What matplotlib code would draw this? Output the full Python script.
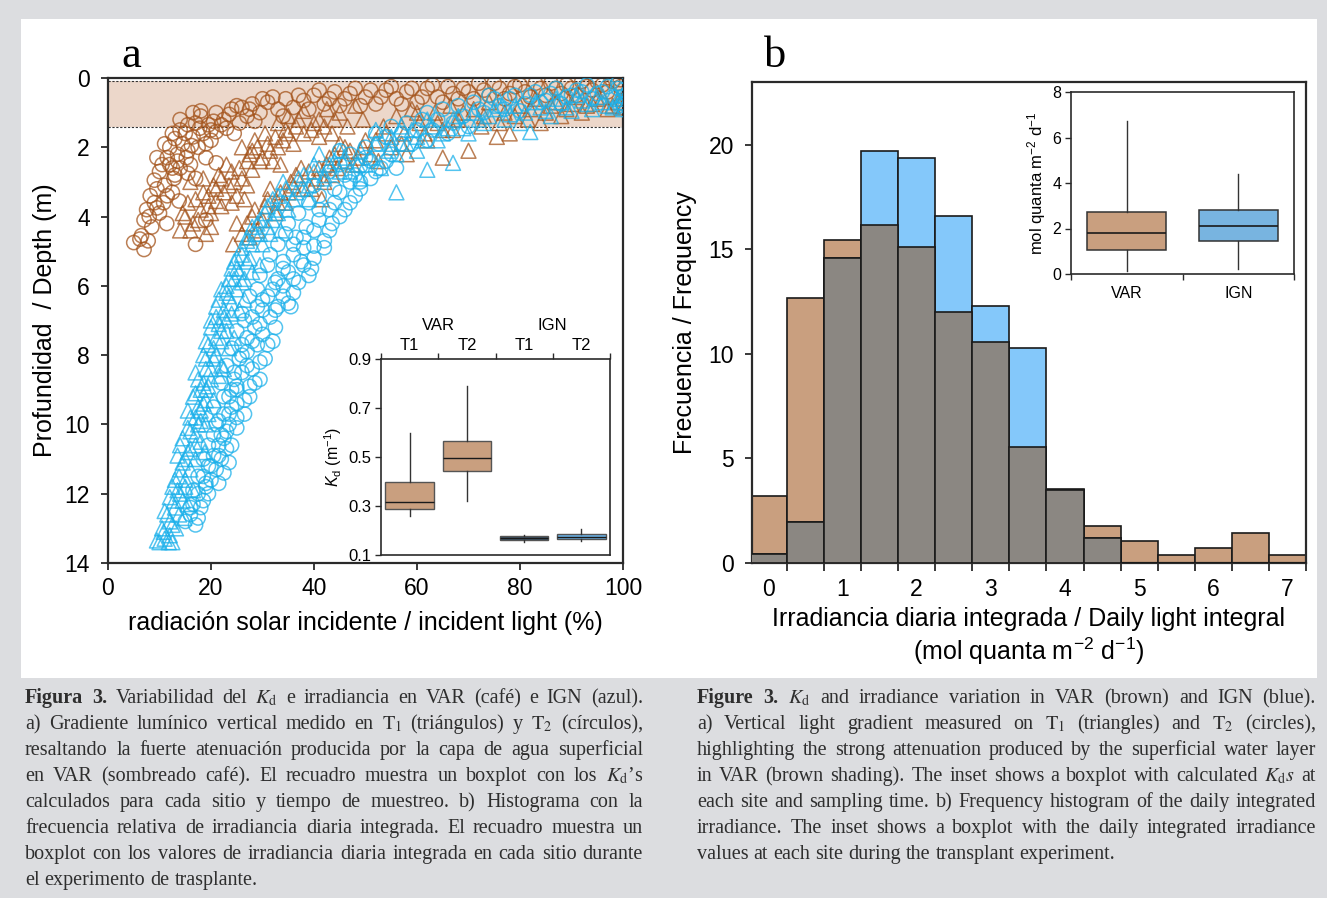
import matplotlib
matplotlib.use('Agg')
import matplotlib.pyplot as plt
import numpy as np
from matplotlib.patches import Rectangle

plt.rcParams['font.family'] = ['Liberation Sans', 'DejaVu Sans']
plt.rcParams['mathtext.fontset'] = 'custom'
plt.rcParams['mathtext.rm'] = 'Liberation Sans'
plt.rcParams['mathtext.it'] = 'Liberation Sans:italic'
plt.rcParams['mathtext.bf'] = 'Liberation Sans:bold'

# ---------------- data: panel a (incident light %, depth m) ----------------
var_t2 = np.array([  # VAR, T2 (circles)
    (5.0, 4.75), (6.2, 4.65), (7.0, 4.95), (7.8, 4.7), (6.5, 4.55), (7.0, 4.1), (8.5, 4.3), (7.5, 3.8),
    (9.0, 3.6), (8.2, 3.4), (10.0, 3.9), (11.4, 4.2), (9.5, 3.2), (9.0, 2.95), (10.0, 2.7), (11.0, 3.1),
    (12.0, 2.5), (11.5, 2.3), (13.0, 2.8), (12.5, 3.3), (14.0, 2.6), (10.5, 2.5), (13.5, 2.2), (12.0, 2.0),
    (13.0, 1.75), (14.5, 1.9), (15.5, 2.1), (16.5, 1.7), (17.5, 2.0), (18.5, 1.6), (20.0, 1.8), (21.0, 1.55),
    (15.0, 1.6), (19.0, 2.3), (16.0, 2.5), (14.0, 1.5), (17.0, 1.3), (18.0, 1.1), (19.5, 1.35), (21.0, 1.0),
    (22.5, 1.2), (24.0, 0.9), (25.5, 1.3), (27.0, 1.1), (23.0, 1.45), (26.0, 0.85), (28.0, 0.75), (29.5, 1.0),
    (31.0, 0.7), (33.0, 0.9), (34.5, 0.6), (36.0, 0.85), (30.0, 0.6), (38.0, 0.65), (40.0, 0.5), (42.0, 0.75),
    (44.0, 0.4), (46.0, 0.6), (48.0, 0.3), (50.0, 0.55), (52.0, 0.75), (54.0, 0.35), (56.0, 0.6), (45.0, 0.8),
    (58.0, 0.4), (60.0, 0.7), (62.0, 0.3), (64.0, 0.55), (66.0, 0.25), (68.0, 0.6), (70.0, 0.4), (72.0, 0.15),
    (74.0, 0.5), (76.0, 0.3), (78.0, 0.45), (80.0, 0.2), (82.0, 0.55), (84.0, 0.3), (86.0, 0.15), (88.0, 0.45),
    (90.0, 0.3), (92.0, 0.1), (94.0, 0.35), (96.0, 0.2), (98.0, 0.1), (99.5, 0.05), (99.5, 0.25), (99.0, 0.15),
    (17.0, 4.8), (19.0, 4.1), (12.8, 2.9), (15.2, 2.3), (17.8, 1.45), (13.8, 3.55), (10.8, 3.6), (16.2, 1.95),
    (20.5, 1.25), (24.5, 1.6), (17.0, 2.9), (21.0, 2.45),
    (9.5, 2.3), (11.0, 1.9), (12.5, 1.6), (14.0, 1.2), (15.5, 1.35), (16.5, 1.0), (18.0, 0.95), (19.0, 1.9),
    (20.0, 1.5), (22.0, 1.35), (23.5, 1.05), (25.0, 0.8), (27.5, 0.9), (28.5, 1.25), (32.0, 0.55), (34.0, 1.1),
    (37.0, 0.5), (39.0, 0.9), (41.0, 0.35), (43.0, 0.6), (47.0, 0.45), (49.0, 0.8), (51.0, 0.35), (53.0, 0.55),
    (55.0, 0.25), (57.0, 0.75), (59.0, 0.3), (61.0, 0.55), (63.0, 0.2), (65.0, 0.7), (67.0, 0.45), (69.0, 0.3),
    (71.0, 0.6), (73.0, 0.35), (75.0, 0.15), (77.0, 0.6), (79.0, 0.25), (81.0, 0.4), (83.0, 0.15), (85.0, 0.5),
    (87.0, 0.3), (89.0, 0.2), (91.0, 0.5), (93.0, 0.25), (95.0, 0.1), (97.0, 0.4), (8.0, 4.0), (9.5, 3.75),
    (11.5, 3.4), (12.5, 2.6), (13.5, 2.4), (15.5, 2.75),
])
var_t1 = np.array([  # VAR, T1 (triangles)
    (14, 4.4), (15, 4.0), (16.5, 4.2), (18, 3.8), (19, 4.5), (17, 3.5), (19.5, 3.4), (15.5, 3.6), (20, 3.9),
    (20.5, 3.1), (21.5, 2.8), (22.5, 3.3), (23, 2.5), (24.5, 3.0), (25.5, 2.6), (26.5, 3.5), (27, 2.4),
    (22, 3.7), (24, 3.6), (21, 3.55), (26, 2.0), (27.5, 2.2), (28.5, 1.8), (29.5, 2.4), (30.5, 1.6),
    (31.5, 2.1), (32.5, 1.7), (33.5, 2.5), (34.5, 1.5), (28, 2.65), (33, 1.3), (35, 1.1), (36.5, 1.4),
    (38, 0.95), (39.5, 1.5), (41, 1.2), (42.5, 0.9), (43.5, 1.6), (45, 1.0), (46.5, 1.4), (48, 0.8),
    (49.5, 1.2), (24.3, 4.8), (26, 4.5), (27, 4.2), (28.5, 3.8), (30, 4.1), (31, 3.5), (32.5, 3.9),
    (33.5, 3.3), (34.5, 3.6), (29, 4.4), (35.5, 3.0), (36.5, 2.8), (38, 3.2), (39, 2.7), (40.5, 2.9),
    (41.5, 3.5), (42.5, 2.5), (43.5, 2.8), (44, 2.2), (45, 1.9), (46, 2.4), (47, 2.1), (48.5, 2.3),
    (49.5, 2.0), (52, 1.8), (53.5, 1.4), (55, 2.0), (56, 1.1), (57.5, 1.6), (59, 0.9), (60.5, 1.3),
    (62, 1.8), (63.5, 1.0), (65, 1.5), (66.5, 0.8), (68, 1.2), (70, 2.1), (71, 0.9), (72.5, 1.4), (74, 0.7),
    (75.5, 1.7), (77, 1.0), (78, 1.6), (80, 0.8), (81.5, 1.2), (83, 0.6), (85, 1.0), (87, 0.7), (89, 0.9),
    (91, 0.55), (93, 0.8), (95, 0.6), (97, 0.9), (99, 0.7), (100, 0.85), (100, 0.6), (52.5, 2.4), (58, 2.2),
    (65, 2.3), (16, 3.0), (18.5, 2.9), (20, 4.3),
    (14.5, 3.9), (16, 4.4), (17.5, 4.1), (18.5, 3.3), (19.5, 3.7), (21, 3.2), (22, 2.9), (23.5, 3.1),
    (24, 2.7), (25, 3.4), (26, 2.9), (27, 3.1), (28, 2.1), (29, 2.0), (30, 2.3), (31, 1.9), (32, 2.4),
    (33, 2.0), (34, 1.8), (35, 1.6), (36, 1.9), (37, 1.2), (38, 1.6), (40, 1.3), (41, 1.7), (42, 1.4),
    (44, 1.2), (25, 4.2), (27.5, 4.6), (28, 4.0), (30.5, 3.7), (31.5, 3.2), (33, 3.6), (35, 3.3), (36, 3.1),
    (37.5, 2.6), (39.5, 3.2), (41, 2.6), (42, 3.0), (43, 2.3), (44.5, 2.6), (46, 2.0), (47.5, 2.5), (50, 1.8),
    (51, 2.2), (54, 1.6), (57, 1.9), (60, 1.0), (61.5, 1.6), (64, 1.3), (67, 1.5), (69, 1.0), (73, 1.1),
    (76, 1.3), (79, 1.1), (82, 0.9), (84, 1.3), (86, 0.8), (88, 1.1), (90, 0.75), (92, 1.0), (94, 0.75),
    (96, 0.55), (98, 0.8),
])
ign_t1 = np.array([  # IGN, T1 (triangles)
    (10, 13.4), (11, 13.3), (12, 13.2), (10.5, 13.0), (12.5, 12.9), (11.5, 12.6), (13, 12.4), (12, 12.1),
    (13.5, 11.9), (14.5, 12.2), (13, 11.6), (14, 11.3), (15, 11.0), (13.5, 10.9), (16, 10.7), (14.5, 10.4),
    (15.5, 10.1), (17, 10.3), (16, 9.8), (17.5, 9.5), (16.5, 9.2), (18, 9.0), (19, 9.3), (17.5, 8.7),
    (19, 8.4), (20, 8.7), (18.5, 8.0), (20.5, 8.1), (19.5, 7.7), (21, 7.5), (20, 7.2), (22, 7.3), (21, 6.9),
    (22.5, 6.7), (21.5, 6.4), (23.5, 6.3), (23, 6.0), (24.5, 5.8), (24, 5.5), (25.5, 5.6), (25, 5.2),
    (27, 5.3), (26, 4.9), (28, 4.8), (27, 4.6), (29.5, 4.5), (29, 4.2), (31, 4.3), (30.5, 3.9), (32.5, 3.8),
    (32, 3.5), (34, 3.6), (34.5, 3.2), (36.5, 3.3), (37, 2.9), (39, 3.1), (40, 2.7), (42, 2.9), (43, 2.5),
    (45, 2.7), (46, 2.3), (48.5, 2.5), (49, 2.1), (51, 2.3), (52, 1.9), (54.5, 2.1), (56, 3.3), (55, 1.7),
    (58, 1.9), (59, 1.5), (61, 1.8), (62, 2.65), (63, 1.4), (65, 1.6), (67, 2.45), (67, 1.2), (69, 1.45),
    (71, 1.0), (73, 1.3), (75, 0.9), (77, 1.2), (79, 0.8), (82, 1.56), (81, 1.0), (83, 0.7), (85, 0.95),
    (87, 0.6), (89, 0.85), (91, 0.5), (93, 0.75), (95, 0.55), (97, 0.8), (99, 0.6), (100, 0.9), (100, 0.7),
    (100, 0.5), (22, 8.3), (23, 7.0), (19, 10.0), (24, 6.8), (26, 5.9), (12.5, 13.4), (15, 11.8), (18, 9.9),
    (9.5, 13.35), (10.8, 13.1), (11.8, 13.4), (13.2, 13.0), (11, 12.5), (12, 12.8), (13.8, 12.6), (14.8, 12.7),
    (12.8, 12.2), (14, 12.0), (15.5, 12.3), (12.5, 11.8), (13.8, 11.5), (15, 11.6), (16, 11.3), (14.5, 11.1),
    (16.5, 11.9), (17, 11.0), (14, 10.6), (15.5, 10.8), (17, 10.6), (16, 10.2), (18, 10.5), (17.5, 10.0),
    (18.8, 10.8), (15.5, 9.6), (17, 9.8), (18.5, 9.4), (19.5, 9.7), (17, 9.1), (19, 9.0), (20.5, 9.3),
    (18, 9.6), (17, 8.5), (18.5, 8.8), (20, 8.4), (21.5, 8.6), (19, 8.1), (21, 8.0), (22.5, 8.4), (19.5, 8.9),
    (19, 7.6), (20.5, 7.8), (22, 7.6), (23.5, 7.8), (21.5, 7.1), (23, 7.3), (24.5, 7.5), (20, 7.0), (21, 6.6),
    (22.5, 6.9), (24, 6.5), (25.5, 6.7), (23, 6.2), (25, 6.1), (26.5, 6.4), (22, 6.1), (23.5, 5.8), (25, 5.5),
    (26.5, 5.8), (28, 5.6), (26, 5.1), (27.5, 5.2), (29.5, 5.4), (24.5, 5.3), (27, 4.7), (28.5, 4.5),
    (30, 4.8), (31.5, 4.5), (29.5, 4.1), (32, 4.1), (33.5, 4.4), (28, 4.3), (31, 3.7), (33, 3.4), (35, 3.8),
    (36, 3.5), (34, 3.0), (37.5, 3.2), (39, 3.5), (33, 3.9), (38, 2.8), (40, 2.5), (42, 2.8), (44, 2.4),
    (47, 2.7), (49, 2.9), (41, 2.2), (45, 2.1), (50, 2.5), (53, 2.6), (52, 1.5), (55, 1.9), (57, 1.4),
    (60, 1.7), (62, 1.2), (64, 1.8), (66, 1.45), (68, 1.1), (70, 1.6), (72, 1.2), (56, 2.2), (60, 2.1),
    (74, 1.1), (76, 0.8), (78, 1.05), (80, 1.3), (84, 0.85), (86, 1.1), (88, 0.7), (90, 0.95), (92, 0.65),
    (94, 0.9), (96, 0.7), (98, 0.85),
])
ign_t2 = np.array([  # IGN, T2 (circles)
    (15, 12.8), (16, 12.6), (17, 12.9), (16.5, 12.3), (18, 12.4), (17.5, 12.0), (19, 11.8), (18.5, 11.5),
    (20, 11.6), (19.5, 11.2), (21, 11.3), (20.5, 10.9), (22, 11.0), (21.5, 10.6), (23, 10.7), (25, 10.1),
    (22, 10.3), (23.5, 10.0), (22.5, 9.7), (24, 9.5), (25, 9.8), (23.5, 9.2), (25, 9.0), (26.5, 9.3),
    (27.5, 8.9), (24.5, 8.7), (26, 8.5), (28, 8.4), (29.5, 8.7), (25.5, 8.1), (27, 7.9), (29, 7.7),
    (30.5, 8.1), (27, 7.5), (28.5, 7.2), (30, 7.4), (32, 7.6), (28, 6.9), (30, 6.7), (31.5, 6.9), (33, 6.6),
    (35, 6.5), (30, 6.4), (32, 6.1), (34, 6.3), (36, 6.2), (33, 5.8), (35, 5.6), (37, 5.9), (39, 5.7),
    (34, 5.3), (36, 5.1), (38, 5.4), (40, 5.2), (36, 4.8), (38, 4.6), (40, 4.85), (42, 4.7), (38.5, 4.3),
    (41, 4.1), (43, 4.4), (45, 4.0), (41, 3.8), (44, 3.6), (46, 3.8), (48, 3.4), (44, 3.2), (47, 3.0),
    (49, 3.2), (51, 2.9), (46, 2.8), (49, 2.55), (51, 2.4), (53, 2.6), (47, 2.2), (50, 2.0), (52.5, 1.9),
    (55, 2.2), (54, 1.7), (57, 1.6), (59, 1.9), (58, 1.3), (61, 1.2), (63, 1.5), (62, 1.0), (65, 0.9),
    (67, 1.3), (68, 0.8), (71, 0.7), (73, 1.0), (75, 0.6), (77, 0.9), (79, 0.5), (81, 0.75), (83, 0.4),
    (85, 0.65), (87, 0.3), (89, 0.55), (91, 0.35), (93, 0.2), (95, 0.45), (97, 0.25), (99, 0.15),
    (100, 0.35), (100, 0.55), (100, 0.75),
    (16, 12.4), (17.5, 12.7), (18.5, 12.2), (19.5, 12.0), (16.5, 11.9), (17.5, 11.5), (18.5, 11.0),
    (20, 11.2), (21.5, 11.7), (22.5, 11.4), (23.5, 11.1), (19, 11.7), (19.5, 10.6), (20.5, 10.3),
    (21.5, 10.9), (22.5, 10.4), (24, 10.6), (21, 10.0), (23, 10.2), (20.5, 9.5), (21.5, 9.9), (22.5, 9.2),
    (23.5, 9.7), (25, 9.4), (26.5, 9.7), (27.5, 9.2), (24, 9.0), (22, 8.8), (23, 8.3), (24.5, 8.5),
    (25, 8.9), (27, 8.3), (28.5, 8.8), (29.5, 8.2), (26, 8.0), (24, 7.8), (25, 7.3), (26, 7.7), (28, 7.6),
    (29.5, 7.1), (31, 7.7), (32.5, 7.2), (26.5, 7.0), (26, 6.8), (27.5, 6.3), (29, 6.6), (31, 6.3),
    (32.5, 6.7), (34, 6.0), (35.5, 6.6), (29, 6.1), (29.5, 5.7), (31, 5.4), (32.5, 5.9), (34, 5.5),
    (36, 5.8), (37.5, 5.3), (39.5, 5.5), (31.5, 5.1), (33, 4.8), (34.5, 4.5), (36.5, 4.6), (38, 4.9),
    (40, 4.4), (42, 4.9), (43.5, 4.2), (35, 4.2), (37, 3.9), (39, 3.6), (41, 3.4), (43, 3.8), (45, 3.3),
    (47, 3.6), (49, 3.0), (40, 3.1), (43, 2.7), (45, 2.5), (48, 2.8), (50, 2.3), (52, 2.7), (54, 2.4),
    (56, 2.6), (45, 2.1), (52, 1.6), (55, 1.4), (57, 1.9), (60, 1.5), (62, 1.8), (64, 1.2), (66, 1.6),
    (69, 1.1), (70, 1.4), (72, 0.9), (74, 0.5), (76, 0.8), (78, 0.6), (80, 0.95), (82, 0.5), (84, 0.7),
    (86, 0.45), (88, 0.75), (90, 0.5), (92, 0.4), (94, 0.6), (96, 0.4), (98, 0.55), (99, 0.3), (99.5, 0.8),
])
shade_top, shade_bottom = 0.1, 1.42   # surface water layer in VAR (m)

# inset a: Kd boxplot (m^-1)
kd_groups = ['T1', 'T2', 'T1', 'T2']
kd_sites = ['VAR', 'IGN']
kd_lo = [0.259, 0.320, 0.155, 0.158]
kd_q1 = [0.286, 0.443, 0.161, 0.165]
kd_med = [0.315, 0.495, 0.170, 0.175]
kd_q3 = [0.397, 0.565, 0.179, 0.184]
kd_hi = [0.600, 0.790, 0.183, 0.205]

# ---------------- data: panel b ----------------
dli_bins = [0.0, 0.5, 1.0, 1.5, 2.0, 2.5, 3.0, 3.5, 4.0, 4.5, 5.0, 5.5, 6.0, 6.5, 7.0]
freq_var = [3.18, 12.69, 15.44, 16.16, 15.09, 11.98, 10.55, 5.57, 3.52, 1.76, 1.07, 0.36, 0.71, 1.42, 0.36]
freq_ign = [0.42, 1.98, 14.60, 19.71, 19.37, 16.59, 12.27, 10.30, 3.50, 1.19, 0.0, 0.0, 0.0, 0.0, 0.0]

dli_sites = ['VAR', 'IGN']
dli_lo = [0.12, 0.23]
dli_q1 = [1.04, 1.46]
dli_med = [1.82, 2.13]
dli_q3 = [2.74, 2.83]
dli_hi = [6.73, 4.38]

# ---------------- colours ----------------
BROWN_M = '#a4541c'
BLUE_M = '#1bb0ea'
BROWN_F = '#c99f7f'
BLUE_F = '#84c8fa'
GRAY_F = '#8b8782'
IGN1_F = '#3d5468'
IGN2_F = '#6cb2e6'
IGNB_F = '#78b4e0'
SPINE = '#2a2a2a'

W, H = 1327, 898
fig = plt.figure(figsize=(W / 100, H / 100), dpi=100, facecolor='#dcdde0')


def fx(px):
    return px / W


def fy(py):
    return 1 - py / H


fig.add_artist(Rectangle((fx(21), fy(678)), fx(1317) - fx(21), fy(19) - fy(678),
                         transform=fig.transFigure, facecolor='white', edgecolor='none', zorder=-5))


def style_spines(ax, lw=1.5):
    for s in ax.spines.values():
        s.set_linewidth(lw)
        s.set_color(SPINE)


LABEL_FS = 18
TICK_FS = 16.5

# ================= panel a =================
ax = fig.add_axes([fx(108), fy(563), fx(623) - fx(108), fy(78) - fy(563)])
ax.set_facecolor('none')
ax.axhspan(shade_top, shade_bottom, color='#ecd7ca', lw=0, zorder=0)
for yv in (shade_top, shade_bottom):
    ax.axhline(yv, color='#333333', ls=(0, (2, 1.5)), lw=0.8, zorder=1)
ax.scatter(var_t2[:, 0], var_t2[:, 1], s=105, marker='o', facecolors='none', edgecolors=BROWN_M,
           linewidths=1.1, alpha=0.75, zorder=2)
ax.scatter(var_t1[:, 0], var_t1[:, 1], s=115, marker='^', facecolors='none', edgecolors=BROWN_M,
           linewidths=1.1, alpha=0.75, zorder=2)
ax.scatter(ign_t2[:, 0], ign_t2[:, 1], s=105, marker='o', facecolors='none', edgecolors=BLUE_M,
           linewidths=1.1, alpha=0.75, zorder=3)
ax.scatter(ign_t1[:, 0], ign_t1[:, 1], s=115, marker='^', facecolors='none', edgecolors=BLUE_M,
           linewidths=1.1, alpha=0.75, zorder=3)
ax.set_xlim(0, 100)
ax.set_ylim(14, 0)
ax.set_xticks(np.arange(0, 101, 20))
ax.set_yticks(np.arange(0, 15, 2))
ax.tick_params(direction='out', length=5, width=1.3, labelsize=TICK_FS, color=SPINE)
ax.tick_params(axis='y', pad=8)
ax.tick_params(axis='x', pad=5)
style_spines(ax, 1.6)
ax.set_ylabel('Profundidad  / Depth (m)', fontsize=LABEL_FS, labelpad=5)
ax.set_xlabel('radiación solar incidente / incident light (%)', fontsize=LABEL_FS, labelpad=8)
fig.text(fx(121), fy(67), 'a', fontsize=32, family='Liberation Serif', va='baseline', ha='left')

# inset a
axi = fig.add_axes([fx(381), fy(555), fx(610) - fx(381), fy(359) - fy(555)])
axi.set_facecolor('white')
kd_stats = [dict(whislo=lo, q1=a, med=m, q3=b, whishi=hi, fliers=[])
            for lo, a, m, b, hi in zip(kd_lo, kd_q1, kd_med, kd_q3, kd_hi)]
pos_a = np.arange(1, len(kd_groups) + 1)
bp = axi.bxp(kd_stats, positions=pos_a, widths=0.85, patch_artist=True, showcaps=False,
             showfliers=False,
             boxprops=dict(edgecolor='#555555', linewidth=1.0),
             medianprops=dict(color='#1a1a1a', linewidth=1.0),
             whiskerprops=dict(color='#333333', linewidth=1.0))
for patch, c in zip(bp['boxes'], [BROWN_F, BROWN_F, IGN1_F, IGN2_F]):
    patch.set_facecolor(c)
axi.set_xlim(0.5, 4.5)
axi.set_ylim(0.1, 0.9)
axi.set_yticks([0.1, 0.3, 0.5, 0.7, 0.9])
axi.set_yticklabels(['0.1', '0.3', '0.5', '0.7', '0.9'])
axi.xaxis.tick_top()
axi.set_xticks([0.5, 1.5, 2.5, 3.5, 4.5])
axi.set_xticklabels([])
axi.set_xticks(pos_a, minor=True)
axi.set_xticklabels(kd_groups, minor=True)
axi.tick_params(axis='x', which='minor', length=0, labelsize=12, pad=4)
axi.tick_params(axis='x', which='major', direction='out', length=4, width=1.0, color=SPINE)
axi.tick_params(axis='y', direction='out', length=4, width=1.0, labelsize=12, pad=3, color=SPINE)
for site, xc in zip(kd_sites, [1.5, 3.5]):
    axi.annotate(site, xy=(xc, 1.0), xycoords=('data', 'axes fraction'), xytext=(0, 19),
                 textcoords='offset points', ha='center', va='bottom', fontsize=12)
style_spines(axi, 1.2)
axi.set_ylabel(r'$K_\mathregular{d}$ (m$^{-1}$)', fontsize=11.5, labelpad=3)

# ================= panel b =================
axb = fig.add_axes([fx(752), fy(563), fx(1306) - fx(752), fy(82) - fy(563)])
axb.set_facecolor('none')
overlap = np.minimum(freq_var, freq_ign)
axb.bar(dli_bins, freq_var, width=0.5, color=BROWN_F, edgecolor='#1a1a1a', linewidth=1.2, zorder=2)
axb.bar(dli_bins, freq_ign, width=0.5, color=BLUE_F, edgecolor='#1a1a1a', linewidth=1.2, zorder=3)
axb.bar(dli_bins, overlap, width=0.5, color=GRAY_F, edgecolor='#1a1a1a', linewidth=1.2, zorder=4)
axb.set_xlim(-0.22, 7.25)
axb.set_ylim(0, 23)
axb.set_yticks([0, 5, 10, 15, 20])
axb.set_xticks(range(0, 8))
edges = np.arange(0.25, 7.3, 0.5)
axb.set_xticks(edges, minor=True)
axb.tick_params(axis='x', which='major', length=0, labelsize=TICK_FS, pad=11)
axb.tick_params(axis='x', which='minor', direction='out', length=6, width=1.3, color=SPINE)
axb.tick_params(axis='y', direction='out', length=5, width=1.3, labelsize=TICK_FS, pad=8, color=SPINE)
style_spines(axb, 1.6)
axb.set_ylabel('Frecuencia / Frequency', fontsize=LABEL_FS, labelpad=8)
axb.set_xlabel('Irradiancia diaria integrada / Daily light integral\n(mol quanta m$^{-2}$ d$^{-1}$)',
               fontsize=LABEL_FS, labelpad=4, linespacing=1.2)
fig.text(fx(764), fy(67), 'b', fontsize=32, family='Liberation Serif', va='baseline', ha='left')

# inset b
axj = fig.add_axes([fx(1071), fy(274), fx(1294) - fx(1071), fy(92) - fy(274)])
axj.set_facecolor('white')
dli_stats = [dict(whislo=lo, q1=a, med=m, q3=b, whishi=hi, fliers=[])
             for lo, a, m, b, hi in zip(dli_lo, dli_q1, dli_med, dli_q3, dli_hi)]
pos_b = np.arange(1, len(dli_sites) + 1)
bp2 = axj.bxp(dli_stats, positions=pos_b, widths=0.71, patch_artist=True, showcaps=False,
              showfliers=False,
              boxprops=dict(edgecolor='#333333', linewidth=1.1),
              medianprops=dict(color='#1a1a1a', linewidth=1.2),
              whiskerprops=dict(color='#333333', linewidth=1.0))
for patch, c in zip(bp2['boxes'], [BROWN_F, IGNB_F]):
    patch.set_facecolor(c)
axj.set_xlim(0.5, 2.5)
axj.set_ylim(0, 8)
axj.set_yticks([0, 2, 4, 6, 8])
axj.set_xticks([0.5, 1.5, 2.5])
axj.set_xticklabels([])
axj.set_xticks(pos_b, minor=True)
axj.set_xticklabels(dli_sites, minor=True)
axj.tick_params(axis='x', which='minor', length=0, labelsize=11.5, pad=9)
axj.tick_params(axis='x', which='major', direction='out', length=4, width=1.0, color=SPINE)
axj.tick_params(axis='y', direction='out', length=4, width=1.0, labelsize=11.5, pad=3, color=SPINE)
style_spines(axj, 1.2)
axj.set_ylabel('mol quanta m$^{-2}$ d$^{-1}$', fontsize=12, labelpad=3)

# ================= captions =================
cap_es = [
    r'Figura 3. Variabilidad del $K_\mathrm{d}$ e irradiancia en VAR (café) e IGN (azul).',
    r'a) Gradiente lumínico vertical medido en $\mathrm{T}_1$ (triángulos) y $\mathrm{T}_2$ (círculos),',
    r'resaltando la fuerte atenuación producida por la capa de agua superficial',
    r'en VAR (sombreado café). El recuadro muestra un boxplot con los $K_\mathrm{d}$’s',
    r'calculados para cada sitio y tiempo de muestreo. b) Histograma con la',
    r'frecuencia relativa de irradiancia diaria integrada. El recuadro muestra un',
    r'boxplot con los valores de irradiancia diaria integrada en cada sitio durante',
    r'el experimento de trasplante.',
]
cap_en = [
    r'Figure 3. $K_\mathrm{d}$ and irradiance variation in VAR (brown) and IGN (blue).',
    r'a) Vertical light gradient measured on $\mathrm{T}_1$ (triangles) and $\mathrm{T}_2$ (circles),',
    r'highlighting the strong attenuation produced by the superficial water layer',
    r'in VAR (brown shading). The inset shows a boxplot with calculated $K_\mathrm{d}s$ at',
    r'each site and sampling time. b) Frequency histogram of the daily integrated',
    r'irradiance. The inset shows a boxplot with the daily integrated irradiance',
    r'values at each site during the transplant experiment.',
]

renderer = fig.canvas.get_renderer()
CAP_COLOR = '#2e2e2e'


def make_word(word, size, bold, x=0, y=0):
    return fig.text(x, y, word, fontsize=size, family='Liberation Serif',
                    weight='bold' if bold else 'normal', math_fontfamily='stix',
                    color=CAP_COLOR, va='baseline', ha='left')


def word_widths(line, size):
    ws = []
    for w in line.split(' '):
        t = make_word(w, size, False)
        ws.append(t.get_window_extent(renderer).width)
        t.remove()
    return ws


def draw_caption(lines, x0, x1, y0, dy, size, nbold=2):
    for li, line in enumerate(lines):
        words = line.split(' ')
        bolds = [(li == 0 and k < nbold) for k in range(len(words))]
        texts = [make_word(w, size, b) for w, b in zip(words, bolds)]
        widths = [t.get_window_extent(renderer).width for t in texts]
        last = li == len(lines) - 1
        gap = size * 100 / 72 * 0.25 if last else (x1 - x0 - sum(widths)) / (len(words) - 1)
        x = x0
        ypx = y0 + li * dy
        for t, w in zip(texts, widths):
            t.set_position((fx(x), fy(ypx)))
            x += w + gap


# choose a common font size that fits both columns
base = 14.5
need = 0
for lines, width in ((cap_es, 618), (cap_en, 619)):
    for line in lines[:-1]:
        ws = word_widths(line, base)
        req = sum(ws) + (len(ws) - 1) * base * 100 / 72 * 0.11
        need = max(need, req / width)
size = base / need if need > 1 else base

draw_caption(cap_es, 25, 643, 703, 26, size)
draw_caption(cap_en, 697, 1316, 703, 26, size)

fig.savefig('out.png', dpi=100, facecolor=fig.get_facecolor())
